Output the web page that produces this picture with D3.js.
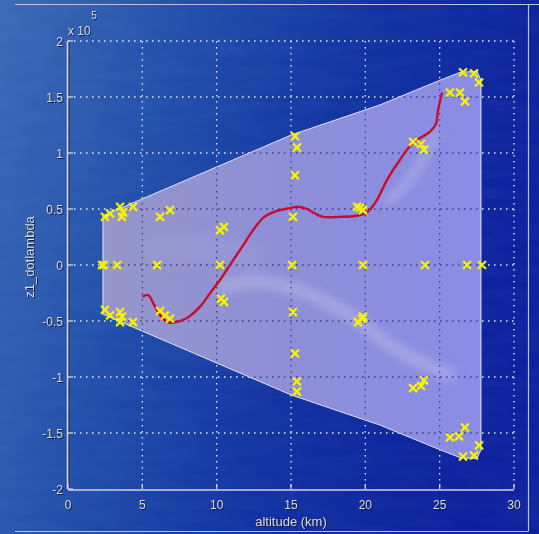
<!DOCTYPE html>
<html><head><meta charset="utf-8">
<script src="https://cdn.jsdelivr.net/npm/d3@7"></script>
<style>html,body{margin:0;padding:0;background:#1a3aa0;}svg{display:block}</style>
</head><body>
<svg id="c" width="539" height="534"></svg>
<script>
// ---- data ----
const xTicks = [0, 5, 10, 15, 20, 25, 30];
const yTicks = [-2, -1.5, -1, -0.5, 0, 0.5, 1, 1.5, 2];
const yTickLabels = ["-2", "-1.5", "-1", "-0.5", "0", "0.5", "1", "1.5", "2"];
const xLabel = "altitude (km)";
const yLabel = "z1_dotlambda";
const exponent = "5";

// boundary of the shaded (reachable) region
const hullX = [2.35, 15.0, 20.99, 25.02, 26.37, 27.51, 27.78, 27.78, 27.51, 26.37, 25.02, 20.99, 15.0, 2.35];
const hullY = [0.44, 1.16, 1.43, 1.65, 1.72, 1.73, 1.65, -1.65, -1.73, -1.72, -1.65, -1.43, -1.16, -0.44];

// red trajectory
const curveX = [5.00, 5.40, 5.74, 6.19, 6.64, 7.08, 7.98, 8.88, 9.55, 10.22, 10.67, 11.57, 13.12, 13.99, 15.0, 15.4, 16.08, 16.61, 17.15, 18.30, 19.44, 20.11, 20.78, 21.46, 22.33, 23.2, 24.35, 24.75, 24.89, 25.16];
const curveY = [-0.283, -0.268, -0.342, -0.446, -0.506, -0.515, -0.476, -0.372, -0.253, -0.134, -0.045, 0.134, 0.42, 0.48, 0.51, 0.52, 0.50, 0.46, 0.43, 0.43, 0.44, 0.47, 0.58, 0.76, 0.94, 1.09, 1.19, 1.26, 1.38, 1.54];

// yellow sample markers
const markX = [2.49, 2.83, 3.63, 3.70, 3.50, 4.37, 6.19, 6.86, 10.22, 10.49,
  2.49, 2.83, 3.50, 3.63, 3.50, 4.37, 6.19, 6.52, 6.86, 10.29, 10.49,
  2.29, 2.40, 3.30, 5.99, 10.22, 15.07, 19.84, 24.01, 26.84, 27.85,
  15.27, 15.40, 15.27, 15.13, 15.13, 15.27, 15.40, 15.40,
  19.44, 19.64, 19.84, 19.51, 19.78, 19.84,
  23.21, 23.74, 23.95, 23.21, 23.74, 23.95,
  25.69, 26.37, 26.70, 26.57, 27.31, 27.65, 25.69, 26.30, 26.70, 26.57, 27.31, 27.65];
const markY = [0.43, 0.46, 0.43, 0.47, 0.52, 0.52, 0.43, 0.49, 0.31, 0.34,
  -0.40, -0.45, -0.42, -0.46, -0.51, -0.51, -0.41, -0.45, -0.48, -0.30, -0.33,
  0, 0, 0, 0, 0, 0, 0, 0, 0, 0,
  1.15, 1.05, 0.80, 0.43, -0.42, -0.79, -1.04, -1.13,
  0.52, 0.51, 0.49, -0.51, -0.48, -0.46,
  1.10, 1.08, 1.03, -1.10, -1.08, -1.03,
  1.54, 1.54, 1.46, 1.72, 1.71, 1.63, -1.54, -1.53, -1.45, -1.71, -1.70, -1.61];

// ---- drawing ----
const svg = d3.select("#c");
const W = 539, H = 534;
const x = d3.scaleLinear().domain([0, 30]).range([68, 514]);
const y = d3.scaleLinear().domain([-2, 2]).range([489, 41]);
const defs = svg.append("defs");

const bg = defs.append("linearGradient").attr("id", "bg").attr("x1", 0).attr("y1", 0).attr("x2", 1).attr("y2", 0.25);
bg.append("stop").attr("offset", "0%").attr("stop-color", "#3a68b4");
bg.append("stop").attr("offset", "30%").attr("stop-color", "#2150aa");
bg.append("stop").attr("offset", "65%").attr("stop-color", "#0f30a0");
bg.append("stop").attr("offset", "100%").attr("stop-color", "#0a1e9c");

const rg = defs.append("linearGradient").attr("id", "rg").attr("x1", 0).attr("y1", 0).attr("x2", 1).attr("y2", 0);
rg.append("stop").attr("offset", "0%").attr("stop-color", "#9696ca");
rg.append("stop").attr("offset", "45%").attr("stop-color", "#8e8fd6");
rg.append("stop").attr("offset", "100%").attr("stop-color", "#8a8ce6");

const tex = defs.append("filter").attr("id", "tex").attr("x", 0).attr("y", 0).attr("width", 1).attr("height", 1);
tex.append("feTurbulence").attr("type", "fractalNoise").attr("baseFrequency", "0.02 0.09").attr("numOctaves", 3).attr("seed", 7).attr("result", "n");
tex.append("feColorMatrix").attr("in", "n").attr("type", "matrix")
  .attr("values", "0 0 0 0 0.35  0 0 0 0 0.5  0 0 0 0 0.9  0 0 0 0.16 0");

const blur = defs.append("filter").attr("id", "blur").attr("x", "-20%").attr("y", "-20%").attr("width", "140%").attr("height", "140%");
blur.append("feGaussianBlur").attr("stdDeviation", 5);

svg.append("rect").attr("width", W).attr("height", H).attr("fill", "url(#bg)");
svg.append("rect").attr("width", W).attr("height", H).attr("filter", "url(#tex)").attr("opacity", 0.5);

// frame
const frame = svg.append("g").attr("stroke", "#b9c3dc").attr("stroke-width", 1.2).attr("fill", "none");
frame.append("line").attr("x1", 15).attr("x2", 539).attr("y1", 4.5).attr("y2", 4.5);
frame.append("line").attr("x1", 15).attr("x2", 528).attr("y1", 531.5).attr("y2", 531.5);
frame.append("line").attr("x1", 528.5).attr("x2", 528.5).attr("y1", 4.5).attr("y2", 531.5);

// grid (light, under region)
function grid(g, color, width) {
  g.selectAll("line.v").data(xTicks.slice(1)).join("line").attr("class", "v")
    .attr("x1", d => x(d)).attr("x2", d => x(d)).attr("y1", y(2)).attr("y2", y(-2))
    .attr("stroke", color).attr("stroke-width", width).attr("stroke-dasharray", "1.5,4.5");
  g.selectAll("line.h").data(yTicks.slice(1)).join("line").attr("class", "h")
    .attr("y1", d => y(d)).attr("y2", d => y(d)).attr("x1", x(0)).attr("x2", x(30))
    .attr("stroke", color).attr("stroke-width", width).attr("stroke-dasharray", "1.5,4.5");
}
grid(svg.append("g"), "#e8ecf4", 1.3);

// region
const hull = hullX.map((d, i) => [x(d), y(hullY[i])]);
const hullPath = "M" + hull.map(p => p.join(",")).join("L") + "Z";
defs.append("clipPath").attr("id", "hc").append("path").attr("d", hullPath);
svg.append("path").attr("d", hullPath).attr("fill", "url(#rg)");

// soft highlights inside region
const hl = svg.append("g").attr("clip-path", "url(#hc)").append("g").attr("filter", "url(#blur)");
const line = d3.line().x(d => x(d[0])).y(d => y(d[1])).curve(d3.curveCatmullRom);
hl.append("path").attr("d", line([[10, -0.2], [13, -0.15], [16, -0.25], [19, -0.45], [22, -0.75], [26, -1.0]]))
  .attr("fill", "none").attr("stroke", "#c4c4ec").attr("stroke-width", 13).attr("opacity", 0.45);
hl.append("path").attr("d", line([[21.3, 0.55], [22.7, 0.72], [23.9, 0.95], [24.8, 1.2]]))
  .attr("fill", "none").attr("stroke", "#c4c4f0").attr("stroke-width", 9).attr("opacity", 0.45);
hl.append("path").attr("d", line([[5, 0.1], [9, 0.15], [13, 0.05]]))
  .attr("fill", "none").attr("stroke", "#a8a8dc").attr("stroke-width", 30).attr("opacity", 0.22);

// dark grid inside region
grid(svg.append("g").attr("clip-path", "url(#hc)"), "#3a3c86", 1.3);

svg.append("path").attr("d", hullPath).attr("fill", "none").attr("stroke", "#f4f4ff").attr("stroke-width", 1).attr("opacity", 0.85);

// red curve
svg.append("path")
  .attr("d", d3.line().x(d => x(d[0])).y(d => y(d[1])).curve(d3.curveCatmullRom)(curveX.map((d, i) => [d, curveY[i]])))
  .attr("fill", "none").attr("stroke", "#cc0a30").attr("stroke-width", 2.4).attr("stroke-linejoin", "round");

// markers
const mk = svg.append("g");
const pts = markX.map((d, i) => [x(d), y(markY[i])]);
const s = 3.3;
mk.selectAll("path").data(pts).join("path")
  .attr("d", p => `M${p[0]-s},${p[1]-s}L${p[0]+s},${p[1]+s}M${p[0]-s},${p[1]+s}L${p[0]+s},${p[1]-s}`)
  .attr("stroke", "#f6f200").attr("stroke-width", 2.3).attr("stroke-linecap", "round");

// axes
const ax = svg.append("g");
ax.append("line").attr("x1", x(0) + 1).attr("x2", x(0) + 1).attr("y1", y(2)).attr("y2", y(-2) + 1).attr("stroke", "#2a2a3a").attr("stroke-width", 1);
ax.append("line").attr("x1", x(0) - 0.5).attr("x2", x(0) - 0.5).attr("y1", y(2)).attr("y2", y(-2)).attr("stroke", "#d4d4d8").attr("stroke-width", 1.6);
ax.append("line").attr("x1", x(0)).attr("x2", x(30)).attr("y1", y(-2) + 1).attr("y2", y(-2) + 1).attr("stroke", "#d4d4d8").attr("stroke-width", 1.6);
ax.selectAll("line.yt").data(yTicks).join("line").attr("class", "yt")
  .attr("x1", x(0)).attr("x2", x(0) + 5).attr("y1", d => y(d)).attr("y2", d => y(d))
  .attr("stroke", "#d4d4d8").attr("stroke-width", 1.3);
ax.selectAll("line.xt").data(xTicks).join("line").attr("class", "xt")
  .attr("x1", d => x(d)).attr("x2", d => x(d)).attr("y1", y(-2)).attr("y2", y(-2) - 5)
  .attr("stroke", "#d4d4d8").attr("stroke-width", 1.3);

function label(g, tx, ty, text, opts = {}) {
  const fs = opts.size || 12;
  const anchor = opts.anchor || "middle";
  const t1 = g.append("text").attr("x", tx + 1).attr("y", ty + 1).text(text)
    .attr("font-family", "Liberation Sans, Arial, sans-serif").attr("font-size", fs)
    .attr("text-anchor", anchor).attr("fill", "#141a3a");
  const t2 = g.append("text").attr("x", tx).attr("y", ty).text(text)
    .attr("font-family", "Liberation Sans, Arial, sans-serif").attr("font-size", fs)
    .attr("text-anchor", anchor).attr("fill", "#dcdcdc");
  if (opts.rotate) {
    t1.attr("transform", `rotate(${opts.rotate},${tx + 1},${ty + 1})`);
    t2.attr("transform", `rotate(${opts.rotate},${tx},${ty})`);
  }
}
const tg = svg.append("g");
yTicks.forEach((d, i) => label(tg, x(0) - 5, y(d) + 4.5, yTickLabels[i], { anchor: "end" }));
xTicks.forEach(d => label(tg, x(d), 509, String(d)));
label(tg, 291, 526, xLabel, { size: 13 });
label(tg, 34, 257, yLabel, { size: 13, rotate: -90 });
label(tg, 68, 35, "x 10", { anchor: "start", size: 12 });
label(tg, 94, 19, exponent, { anchor: "middle", size: 10 });
</script>
</body></html>
